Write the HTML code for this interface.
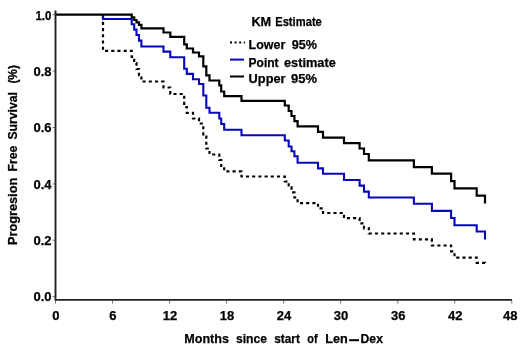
<!DOCTYPE html>
<html><head><meta charset="utf-8"><style>
html,body{margin:0;padding:0;background:#fff;}
body{width:520px;height:347px;overflow:hidden;}
svg{display:block;filter:blur(0.4px);}
text{font-family:"Liberation Sans",sans-serif;font-weight:bold;font-size:13px;fill:#000;stroke:#000;stroke-width:0.25px;}
</style></head><body>
<svg width="520" height="347" viewBox="0 0 520 347">
<rect width="520" height="347" fill="#fff"/>
<g fill="none" stroke-linejoin="miter" stroke-linecap="butt">
<path d="M103.0,14.7H103.0V50.8H131.7V56.8H134.2V63.0H136.5V69.0H139.0V75.2H141.4V81.5H163.5V87.5H170.3V94.0H184.2V107.0H186.8V112.8H193.0V118.5H199.0V123.5H203.3V136.5H206.3V148.5H209.5V154.5H219.3V160.0H221.2V166.0H224.2V171.3H241.5V176.5H284.8V181.5H288.7V187.0H291.5V192.3H294.4V197.5H297.6V203.1H318.0V208.3H323.0V213.0H344.0V218.2H359.6V223.3H364.0V228.3H368.8V233.5H413.9V239.3H431.9V245.5H451.1V251.3H454.5V257.6H476.7V262.8H485.0V266.0" stroke="#000" stroke-width="2.2" stroke-dasharray="3.1 3.1" stroke-dashoffset="-0.95"/>
<path d="M103.0,14.7H103.0V19.0H131.7V24.2H134.2V29.6H136.5V35.0H139.0V40.6H141.4V46.5H163.5V51.6H170.3V57.3H184.2V68.8H186.8V73.9H193.0V79.3H199.0V84.0H203.3V95.5H206.3V107.8H209.5V112.7H219.3V118.5H221.2V124.0H224.2V129.8H241.5V135.3H284.8V140.5H288.7V146.5H291.5V151.3H294.4V156.3H297.6V162.7H318.0V168.4H323.0V173.8H344.0V180.0H359.6V185.6H364.0V191.6H368.8V197.5H413.9V203.7H431.9V210.9H451.1V218.0H454.5V225.2H476.7V231.5H485.0V239.6" stroke="#0808b8" stroke-width="2.1"/>
<path d="M55.5,14.7H103.0H131.7V17.4H134.2V20.0H136.5V22.3H139.0V24.8H141.4V28.4H163.5V32.5H170.3V36.9H184.2V44.4H186.8V48.5H193.0V52.5H199.0V56.3H203.3V66.3H206.3V75.3H209.5V80.5H219.3V85.3H221.2V91.5H224.2V96.2H241.5V100.8H284.8V105.5H288.7V111.0H291.5V116.0H294.4V121.2H297.6V126.4H318.0V131.8H323.0V137.6H344.0V143.2H359.6V148.5H364.0V154.0H368.8V160.4H413.9V167.1H431.9V173.7H451.1V181.2H454.5V188.3H476.7V195.6H485.0V203.6" stroke="#000" stroke-width="2.2"/>
</g>
<g stroke="#777" stroke-width="1" fill="none"><line x1="55.5" y1="300.5" x2="55.5" y2="303.6"/><line x1="112.5" y1="300.5" x2="112.5" y2="303.6"/><line x1="169.6" y1="300.5" x2="169.6" y2="303.6"/><line x1="226.6" y1="300.5" x2="226.6" y2="303.6"/><line x1="283.7" y1="300.5" x2="283.7" y2="303.6"/><line x1="340.7" y1="300.5" x2="340.7" y2="303.6"/><line x1="397.8" y1="300.5" x2="397.8" y2="303.6"/><line x1="454.8" y1="300.5" x2="454.8" y2="303.6"/><line x1="511.8" y1="300.5" x2="511.8" y2="303.6"/><line x1="52.6" y1="14.7" x2="54.8" y2="14.7"/><line x1="52.6" y1="71.1" x2="54.8" y2="71.1"/><line x1="52.6" y1="127.5" x2="54.8" y2="127.5"/><line x1="52.6" y1="183.9" x2="54.8" y2="183.9"/><line x1="52.6" y1="240.25" x2="54.8" y2="240.25"/><line x1="52.6" y1="296.6" x2="54.8" y2="296.6"/></g>
<path d="M55.5,10.4V299.9H512" fill="none" stroke="#222" stroke-width="1.9"/>
<g><text x="55.9" y="319.6" text-anchor="middle">0</text><text x="112.9" y="319.6" text-anchor="middle">6</text><text x="170.0" y="319.6" text-anchor="middle">12</text><text x="227.0" y="319.6" text-anchor="middle">18</text><text x="284.1" y="319.6" text-anchor="middle">24</text><text x="341.1" y="319.6" text-anchor="middle">30</text><text x="398.2" y="319.6" text-anchor="middle">36</text><text x="455.2" y="319.6" text-anchor="middle">42</text><text x="510.2" y="319.6" text-anchor="middle">48</text><text x="35.4" y="19.5" textLength="16" lengthAdjust="spacingAndGlyphs">1.0</text><text x="51.6" y="75.9" text-anchor="end">0.8</text><text x="51.6" y="132.3" text-anchor="end">0.6</text><text x="51.6" y="188.7" text-anchor="end">0.4</text><text x="51.6" y="245.1" text-anchor="end">0.2</text><text x="51.6" y="301.4" text-anchor="end">0.0</text></g>
<g><text x="184.2" y="343" textLength="44.79" lengthAdjust="spacingAndGlyphs">Months</text><text x="236.0" y="343" textLength="30.98" lengthAdjust="spacingAndGlyphs">since</text><text x="274.2" y="343" textLength="25.71" lengthAdjust="spacingAndGlyphs">start</text><text x="307.2" y="343" textLength="10.39" lengthAdjust="spacingAndGlyphs">of</text><text x="325.2" y="343" textLength="22.48" lengthAdjust="spacingAndGlyphs">Len</text><text x="360.6" y="343" textLength="22.31" lengthAdjust="spacingAndGlyphs">Dex</text></g>
<rect x="349.2" y="339.2" width="9.8" height="2" fill="#000"/>
<g transform="rotate(-90)"><text x="-245.0" y="16.6" textLength="67.2" lengthAdjust="spacingAndGlyphs">Progresion</text><text x="-171.6" y="16.6" textLength="25.99" lengthAdjust="spacingAndGlyphs">Free</text><text x="-139.60000000000002" y="16.6" textLength="47.51" lengthAdjust="spacingAndGlyphs">Survival</text><text x="-83.60000000000002" y="16.6" textLength="18.52" lengthAdjust="spacingAndGlyphs">(%)</text></g>
<g><text x="251.4" y="26.3" textLength="19.83" lengthAdjust="spacingAndGlyphs">KM</text><text x="275.2" y="26.3" textLength="46.65" lengthAdjust="spacingAndGlyphs">Estimate</text><text x="248.6" y="49.2" textLength="36.64" lengthAdjust="spacingAndGlyphs">Lower</text><text x="291.8" y="49.2" textLength="25.21" lengthAdjust="spacingAndGlyphs">95%</text><text x="248.6" y="66.7" textLength="30.0" lengthAdjust="spacingAndGlyphs">Point</text><text x="284.0" y="66.7" textLength="51.73" lengthAdjust="spacingAndGlyphs">estimate</text><text x="248.6" y="83.1" textLength="36.94" lengthAdjust="spacingAndGlyphs">Upper</text><text x="291.0" y="83.1" textLength="26.05" lengthAdjust="spacingAndGlyphs">95%</text></g>
<g fill="none" stroke-width="2">
<line x1="230" y1="42.4" x2="245" y2="42.4" stroke="#000" stroke-dasharray="2 2.6"/>
<line x1="230" y1="59.6" x2="244" y2="59.6" stroke="#0808b8"/>
<line x1="230" y1="76.5" x2="244" y2="76.5" stroke="#000"/>
</g>
</svg>
</body></html>
